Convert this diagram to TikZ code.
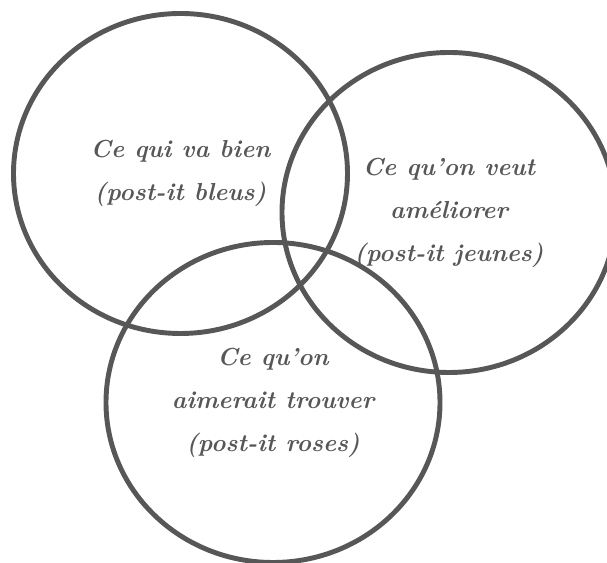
\documentclass[tikz,border=0pt]{standalone}
\usepackage{tikz}
\usetikzlibrary{shapes.geometric}
\definecolor{TraitGris}{HTML}{575757}

\begin{document}
\begin{tikzpicture}[
  ensemble/.style={draw=TraitGris, line width=2.8pt, ellipse, inner sep=0pt,
    minimum width=6.68cm, minimum height=6.4cm, align=center, text=TraitGris,
    font=\fontsize{14}{24.5}\selectfont\bfseries\itshape}]
  \useasboundingbox (0,0) rectangle (12.14,11.26);
  \node[ensemble] (bien) at (3.61,7.79) {Ce qui va bien\\(post-it bleus)};
  \node[ensemble] (ameliorer) at (8.98,7.01) {Ce qu'on veut\\am\'eliorer\\(post-it jeunes)};
  \node[ensemble] (trouver) at (5.46,3.21) {Ce qu'on\\aimerait trouver\\(post-it roses)};
\end{tikzpicture}
\end{document}
